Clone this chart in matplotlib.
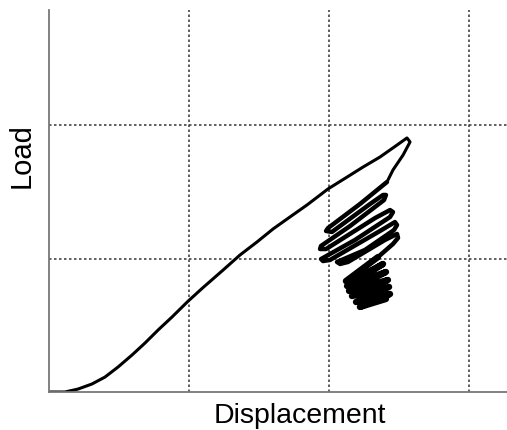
import matplotlib.pyplot as plt

# Curva carga-desplazamiento (unidades de la rejilla, leidas a ojo)
desp_carga = [0.0, 0.114, 0.207, 0.307, 0.400, 0.493, 0.593, 0.686, 0.779,
              0.879, 0.993, 1.100, 1.243, 1.364, 1.486, 1.600, 1.721, 1.843,
              1.993, 2.129, 2.243, 2.364, 2.486, 2.557, 2.579, 2.529, 2.457,
              2.414]
carga = [0.0, 0.0, 0.022, 0.060, 0.112, 0.187, 0.277, 0.367, 0.464,
         0.562, 0.680, 0.782, 0.913, 1.026, 1.124, 1.221, 1.311, 1.401,
         1.521, 1.610, 1.685, 1.760, 1.850, 1.903, 1.873, 1.775, 1.663,
         1.573]

# Oscilaciones despues del pico
desp_osc = [2.414, 2.221, 1.993, 1.979, 2.021, 2.293, 2.386, 2.407, 2.393,
            2.150, 1.943, 1.936, 1.979, 2.329, 2.436, 2.457, 2.436, 2.186,
            1.943, 1.957, 2.007, 2.364, 2.471, 2.486, 2.464, 2.257, 2.057,
            2.079, 2.136, 2.400, 2.486, 2.493, 2.457, 2.350]
carga_osc = [1.573, 1.408, 1.228, 1.206, 1.199, 1.408, 1.476, 1.476, 1.438,
             1.243, 1.094, 1.071, 1.071, 1.303, 1.363, 1.348, 1.311, 1.139,
             0.996, 0.981, 0.989, 1.206, 1.273, 1.251, 1.213, 1.064, 0.974,
             0.959, 0.974, 1.139, 1.184, 1.154, 1.109, 1.011]

# Bloque denso de ciclos al final
desp_bloque = [2.350, 2.121, 2.150, 2.386, 2.129, 2.407, 2.143, 2.421, 2.164,
               2.429, 2.193, 2.436, 2.221, 2.407]
carga_bloque = [1.011, 0.831, 0.824, 0.959, 0.794, 0.899, 0.757, 0.839, 0.719,
                0.787, 0.674, 0.734, 0.637, 0.697]

lineas_x = [1, 2, 3]
lineas_y = [1, 2]

fig = plt.figure(figsize=(5.07, 4.30), dpi=100)
ax = fig.add_axes([49 / 507, 38 / 430, 458 / 507, 382 / 430])

ax.plot(desp_carga, carga, color='black', linewidth=2.2,
        solid_capstyle='round', solid_joinstyle='round')
ax.plot(desp_osc, carga_osc, color='black', linewidth=3.2,
        solid_capstyle='round', solid_joinstyle='round')
ax.plot(desp_bloque, carga_bloque, color='black', linewidth=4.6,
        solid_capstyle='round', solid_joinstyle='round')

# Rejilla punteada
for x in lineas_x:
    ax.axvline(x, color='#444444', linewidth=1.2, linestyle=(0, (1.5, 1.5)), zorder=0)
for y in lineas_y:
    ax.axhline(y, color='#444444', linewidth=1.2, linestyle=(0, (1.5, 1.5)), zorder=0)

ax.set_xlim(0, 458 / 140)
ax.set_ylim(0, 382 / 133.5)
ax.set_xticks([])
ax.set_yticks([])
ax.spines['top'].set_visible(False)
ax.spines['right'].set_visible(False)
for lado in ['left', 'bottom']:
    ax.spines[lado].set_color('#777777')
    ax.spines[lado].set_linewidth(1.3)

fig.text(300 / 507, 1 - 423 / 430, "Displacement", ha='center', va='baseline',
         fontsize=20.5, family='Liberation Sans')
fig.text(22 / 507, 1 - 156 / 430, "Load", ha='center', va='center',
         rotation=90, fontsize=21, family='Liberation Sans')

fig.savefig('out.png', dpi=100)
